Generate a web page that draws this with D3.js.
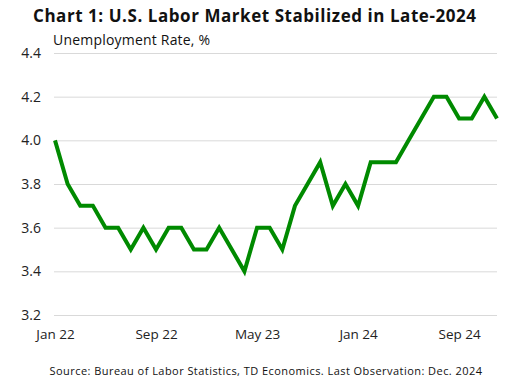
<!DOCTYPE html>
<html><head><meta charset="utf-8">
<script src="https://cdn.jsdelivr.net/npm/d3@7"></script>
<style>body{margin:0;background:#fff;} text{font-family:"Open Sans",Roboto,sans-serif;}</style>
</head><body>
<svg id="c" width="516" height="385"></svg>
<script>
const months = ["2022-01","2022-02","2022-03","2022-04","2022-05","2022-06","2022-07","2022-08","2022-09","2022-10","2022-11","2022-12",
"2023-01","2023-02","2023-03","2023-04","2023-05","2023-06","2023-07","2023-08","2023-09","2023-10","2023-11","2023-12",
"2024-01","2024-02","2024-03","2024-04","2024-05","2024-06","2024-07","2024-08","2024-09","2024-10","2024-11","2024-12"];
const rate = [4.0,3.8,3.7,3.7,3.6,3.6,3.5,3.6,3.5,3.6,3.6,3.5,
3.5,3.6,3.5,3.4,3.6,3.6,3.5,3.7,3.8,3.9,3.7,3.8,
3.7,3.9,3.9,3.9,4.0,4.1,4.2,4.2,4.1,4.1,4.2,4.1];
const yTicks = [3.2,3.4,3.6,3.8,4.0,4.2,4.4];
const xTickLabels = ["Jan 22","Sep 22","May 23","Jan 24","Sep 24"];
const xTickIdx = [0,8,16,24,32];

const svg = d3.select("#c");
const x = d3.scaleLinear().domain([0, months.length-1]).range([55, 497]);
const y = d3.scaleLinear().domain([3.2, 4.4]).range([315, 53]);

svg.append("text").attr("x",33).attr("y",22).attr("font-size",17).attr("font-weight",700).attr("fill","#111")
  .attr("letter-spacing",0.55)
  .text("Chart 1: U.S. Labor Market Stabilized in Late-2024");
svg.append("text").attr("x",53).attr("y",45).attr("font-size",14).attr("fill","#111").attr("letter-spacing",0.2).text("Unemployment Rate, %");

const yAxis = d3.axisLeft(y).tickValues(yTicks).tickFormat(d3.format(".1f")).tickSize(-(497-54)).tickPadding(13);
const gy = svg.append("g").attr("transform","translate(54,0)").call(yAxis);
gy.select(".domain").remove();
gy.selectAll(".tick line").attr("stroke","#d9d9d9").attr("stroke-width",1);
gy.selectAll(".tick text").attr("font-size",14).attr("fill","#222").attr("font-family","'Open Sans',sans-serif");

const xAxis = d3.axisBottom(x).tickValues(xTickIdx).tickFormat((d,i)=>xTickLabels[i]).tickSize(0).tickPadding(0);
const gx = svg.append("g").attr("transform","translate(0,329)").call(xAxis);
gx.select(".domain").remove();
gx.selectAll(".tick text").attr("font-size",13.5).attr("fill","#222").attr("font-family","'Open Sans',sans-serif");

const line = d3.line().x((d,i)=>x(i)).y(d=>y(d));
svg.append("path").datum(rate).attr("d",line).attr("fill","none").attr("stroke","#008a00").attr("stroke-width",4).attr("stroke-linejoin","miter");

svg.append("text").attr("x",266).attr("y",375).attr("text-anchor","middle").attr("font-size",11).attr("fill","#111")
  .attr("letter-spacing",0.45)
  .text("Source: Bureau of Labor Statistics, TD Economics. Last Observation: Dec. 2024");
</script>
</body></html>
